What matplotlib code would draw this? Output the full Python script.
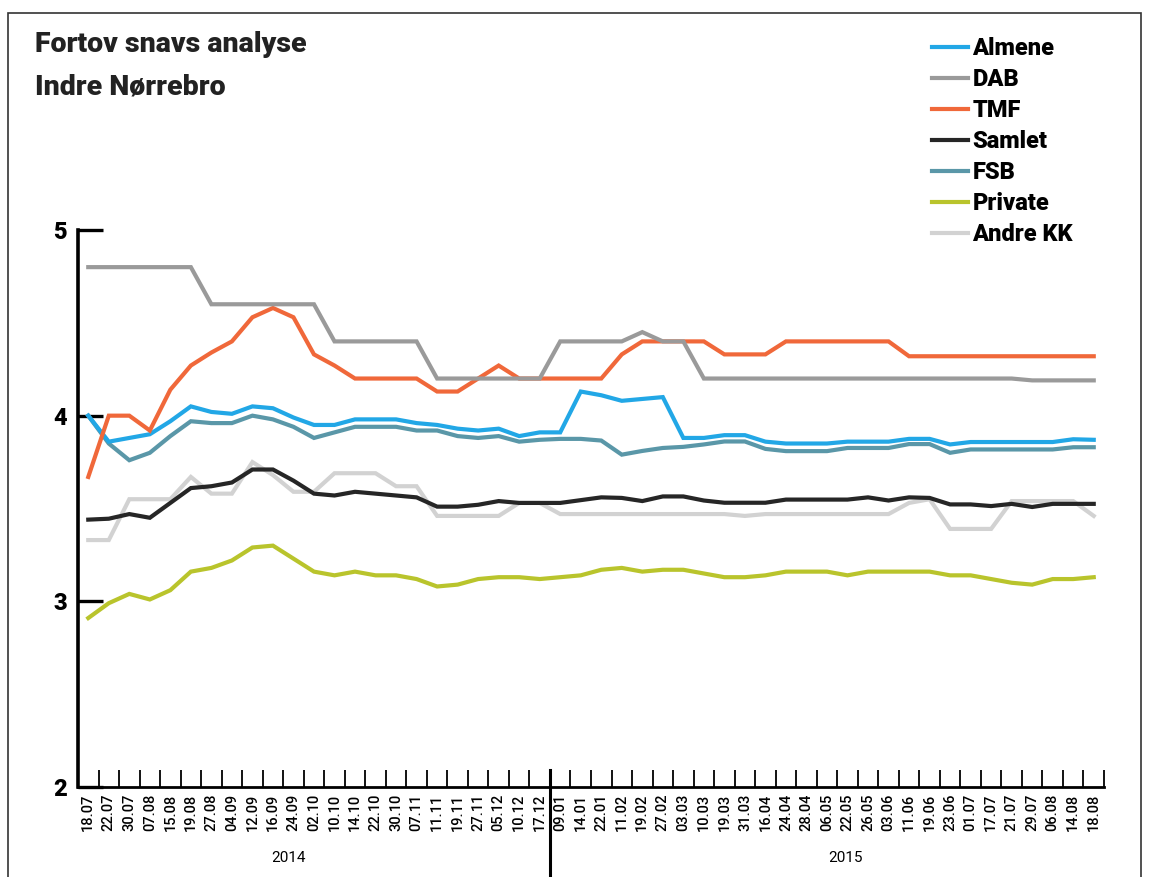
import numpy as np
import matplotlib
matplotlib.use("Agg")
import matplotlib.pyplot as plt
from matplotlib.lines import Line2D
from matplotlib.patches import Rectangle
import matplotlib.transforms as mtransforms

plt.rcParams['font.family'] = ['Roboto', 'DejaVu Sans']

dates_2014 = ['18.07', '22.07', '30.07', '07.08', '15.08', '19.08', '27.08', '04.09', '12.09', '16.09',
              '24.09', '02.10', '10.10', '14.10', '22.10', '30.10', '07.11', '11.11', '19.11', '27.11',
              '05.12', '10.12', '17.12']
dates_2015 = ['09.01', '14.01', '22.01', '11.02', '19.02', '27.02', '03.03', '10.03', '19.03', '31.03',
              '16.04', '24.04', '28.04', '06.05', '22.05', '26.05', '03.06', '11.06', '19.06', '23.06',
              '01.07', '17.07', '21.07', '29.07', '06.08', '14.08', '18.08']
dates = dates_2014 + dates_2015

almene = [4.00, 3.86, 3.88, 3.90, 3.97, 4.05, 4.02, 4.01, 4.05, 4.04,
          3.99, 3.95, 3.95, 3.98, 3.98, 3.98, 3.96, 3.95, 3.93, 3.92,
          3.93, 3.89, 3.91,
          3.91, 4.13, 4.11, 4.08, 4.09, 4.10, 3.88, 3.88, 3.895, 3.895,
          3.86, 3.85, 3.85, 3.85, 3.86, 3.86, 3.86, 3.875, 3.875, 3.845,
          3.858, 3.858, 3.858, 3.858, 3.858, 3.873, 3.87]
dab = [4.8, 4.8, 4.8, 4.8, 4.8, 4.8, 4.6, 4.6, 4.6, 4.6,
       4.6, 4.6, 4.4, 4.4, 4.4, 4.4, 4.4, 4.2, 4.2, 4.2,
       4.2, 4.2, 4.2,
       4.4, 4.4, 4.4, 4.4, 4.45, 4.4, 4.4, 4.2, 4.2, 4.2,
       4.2, 4.2, 4.2, 4.2, 4.2, 4.2, 4.2, 4.2, 4.2, 4.2,
       4.2, 4.2, 4.2, 4.19, 4.19, 4.19, 4.19]
tmf = [3.67, 4.00, 4.00, 3.92, 4.14, 4.27, 4.34, 4.40, 4.53, 4.58,
       4.53, 4.33, 4.27, 4.20, 4.20, 4.20, 4.20, 4.13, 4.13, 4.20,
       4.27, 4.20, 4.20,
       4.20, 4.20, 4.20, 4.33, 4.40, 4.40, 4.40, 4.40, 4.33, 4.33,
       4.33, 4.40, 4.40, 4.40, 4.40, 4.40, 4.40, 4.32, 4.32, 4.32,
       4.32, 4.32, 4.32, 4.32, 4.32, 4.32, 4.32]
samlet = [3.44, 3.445, 3.47, 3.45, 3.53, 3.61, 3.62, 3.64, 3.71, 3.71,
          3.65, 3.58, 3.57, 3.59, 3.58, 3.57, 3.56, 3.51, 3.51, 3.52,
          3.54, 3.53, 3.53,
          3.53, 3.545, 3.56, 3.557, 3.54, 3.565, 3.565, 3.543, 3.531, 3.531,
          3.531, 3.548, 3.548, 3.548, 3.548, 3.56, 3.543, 3.56, 3.557, 3.522,
          3.522, 3.513, 3.525, 3.508, 3.525, 3.525, 3.525]
fsb = [4.00, 3.85, 3.76, 3.80, 3.89, 3.97, 3.96, 3.96, 4.00, 3.98,
       3.94, 3.88, 3.91, 3.94, 3.94, 3.94, 3.92, 3.92, 3.89, 3.88,
       3.89, 3.86, 3.87,
       3.875, 3.875, 3.866, 3.79, 3.81, 3.826, 3.832, 3.845, 3.861, 3.861,
       3.821, 3.809, 3.809, 3.809, 3.826, 3.826, 3.826, 3.847, 3.847, 3.80,
       3.818, 3.818, 3.818, 3.818, 3.818, 3.83, 3.83]
private = [2.91, 2.99, 3.04, 3.01, 3.06, 3.16, 3.18, 3.22, 3.29, 3.30,
           3.23, 3.16, 3.14, 3.16, 3.14, 3.14, 3.12, 3.08, 3.09, 3.12,
           3.13, 3.13, 3.12,
           3.13, 3.14, 3.17, 3.18, 3.16, 3.17, 3.17, 3.15, 3.13, 3.13,
           3.14, 3.16, 3.16, 3.16, 3.14, 3.16, 3.16, 3.16, 3.16, 3.14,
           3.14, 3.12, 3.10, 3.09, 3.12, 3.12, 3.13]
andre_kk = [3.33, 3.33, 3.55, 3.55, 3.55, 3.67, 3.58, 3.58, 3.75, 3.68,
            3.59, 3.59, 3.69, 3.69, 3.69, 3.62, 3.62, 3.46, 3.46, 3.46,
            3.46, 3.53, 3.53,
            3.47, 3.47, 3.47, 3.47, 3.47, 3.47, 3.47, 3.47, 3.47, 3.46,
            3.47, 3.47, 3.47, 3.47, 3.47, 3.47, 3.47, 3.53, 3.55, 3.39,
            3.39, 3.39, 3.54, 3.54, 3.54, 3.54, 3.46]

W, H = 1149, 877
fig = plt.figure(figsize=(W / 100, H / 100), dpi=100)

# frame round the whole graphic
fig.patches.append(Rectangle((8 / W, -0.05), (1141 - 8) / W, 1.05 - 13 / H,
                             transform=fig.transFigure, fill=False,
                             edgecolor='#333333', linewidth=1.2))

ax = fig.add_axes([78 / W, 1 - 787 / H, (1104 - 78) / W, (787 - 230) / H])
x = np.arange(len(dates))

series = [
    ('Andre KK', andre_kk, '#d2d2d2'),
    ('Private', private, '#b9c42c'),
    ('FSB', fsb, '#5a97a8'),
    ('Almene', almene, '#22a7e6'),
    ('TMF', tmf, '#f0683a'),
    ('DAB', dab, '#9a9a9a'),
    ('Samlet', samlet, '#262626'),
]
lines = {}
for name, vals, col in series:
    ln, = ax.plot(x, vals, color=col, lw=3.0, solid_joinstyle='miter', label=name)
    lines[name] = ln

ax.set_xlim(-0.5, len(dates) - 0.5)
ax.set_ylim(2, 5)
for s in ['top', 'right']:
    ax.spines[s].set_visible(False)
ax.spines['left'].set_linewidth(2.6)
ax.spines['bottom'].set_linewidth(2.0)

ax.set_yticks([2, 3, 4, 5])
ax.set_yticklabels(['2', '3', '4', '5'], fontsize=17, fontweight='black')
ax.tick_params(axis='y', direction='in', length=18, width=2.4, pad=8)

ax.set_xticks(x)
ax.set_xticklabels(dates, rotation=90, fontsize=10.5, fontweight='medium')
ax.tick_params(axis='x', which='major', length=0, pad=5)
ax.set_xticks(np.arange(len(dates)) + 0.5, minor=True)
ax.tick_params(axis='x', which='minor', direction='in', length=12, width=1.3)

# year divider
trans = mtransforms.blended_transform_factory(ax.transData, ax.transAxes)
ax.add_line(Line2D([len(dates_2014) - 0.5] * 2, [0.03, -0.2], transform=trans,
                   color='black', lw=2.2, clip_on=False))
ax.text(9.75, -0.128, '2014', transform=trans, ha='center', va='center', fontsize=11)
ax.text(36.9, -0.128, '2015', transform=trans, ha='center', va='center', fontsize=11)

fig.text(35 / W, 1 - 52 / H, 'Fortov snavs analyse', fontsize=20.5, fontweight='black',
         color='#222222', ha='left', va='baseline')
fig.text(35 / W, 1 - 94 / H, 'Indre Nørrebro', fontsize=20.5, fontweight='black',
         color='#222222', ha='left', va='baseline')

order = ['Almene', 'DAB', 'TMF', 'Samlet', 'FSB', 'Private', 'Andre KK']
leg = fig.legend([lines[n] for n in order], order, loc='upper left',
                 bbox_to_anchor=(911 / W, 1 - 16 / H), frameon=False,
                 handlelength=1.5, handletextpad=0.2, labelspacing=0.34,
                 prop={'size': 17, 'weight': 'black'})

fig.savefig('out.png', dpi=100)
